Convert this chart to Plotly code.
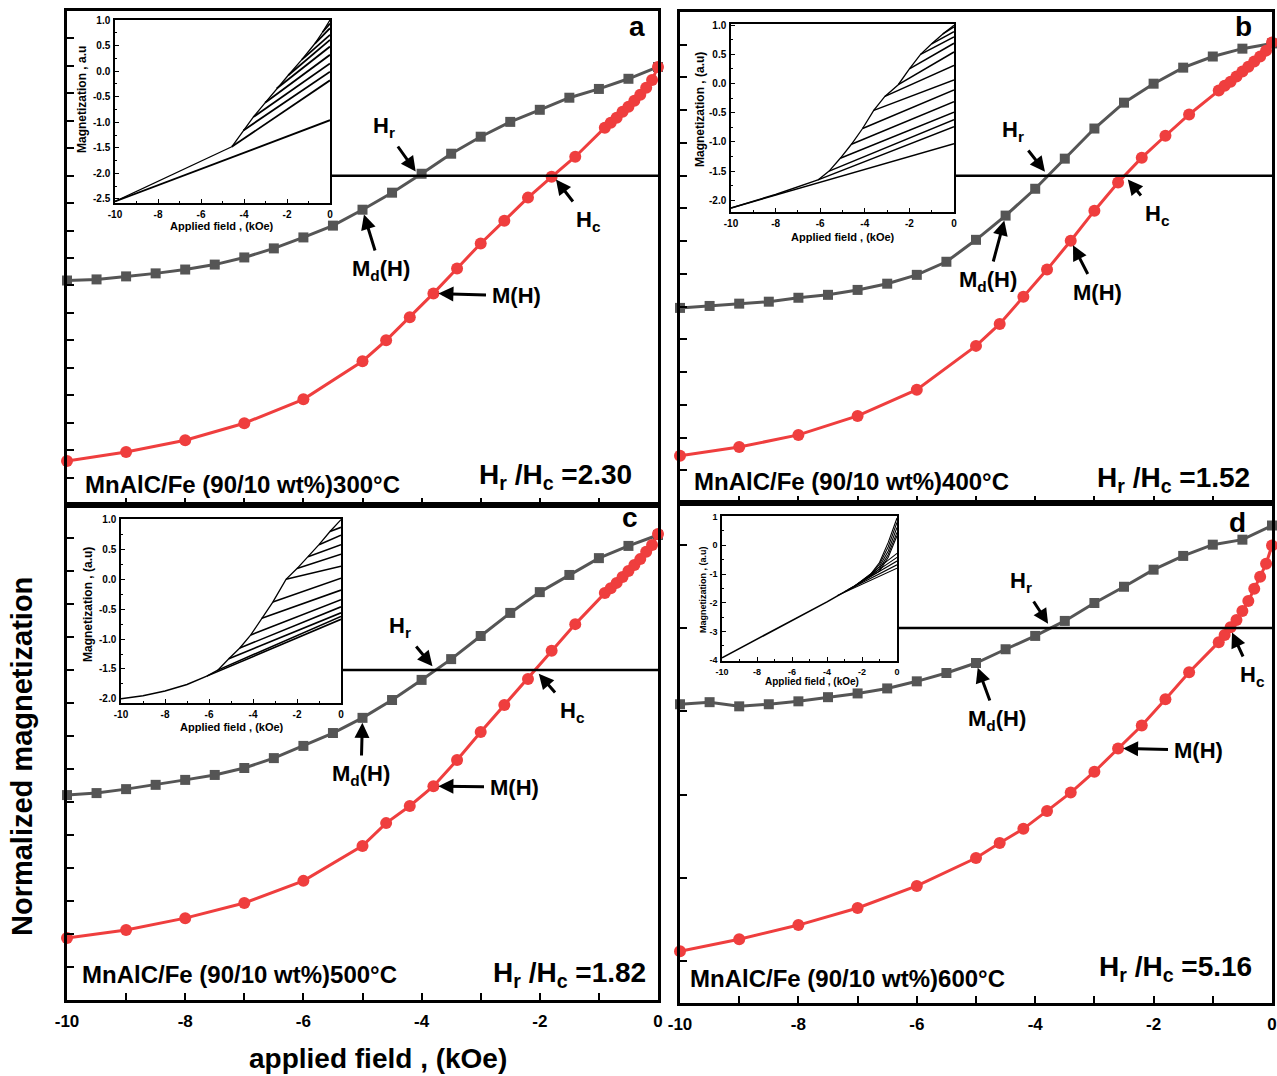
import numpy as np
import plotly.graph_objects as go

W, H = 1277, 1076
FONT = "Liberation Sans, Arial, sans-serif"

# ---------------- main panels: demagnetisation data ----------------
# field steps (kOe)
h_md = [-10, -9.5, -9, -8.5, -8, -7.5, -7, -6.5, -6, -5.5, -5, -4.5, -4,
        -3.5, -3, -2.5, -2, -1.5, -1, -0.5, 0]
h_m = [-10, -9, -8, -7, -6, -5, -4.6, -4.2, -3.8, -3.4, -3.0, -2.6, -2.2,
       -1.8, -1.4, -0.9, -0.8, -0.7, -0.6, -0.5, -0.4, -0.3, -0.2, -0.1, 0]

# Md(H) curves (grey squares)
md_300 = [-0.382, -0.378, -0.367, -0.356, -0.342, -0.324, -0.298, -0.265, -0.225,
          -0.182, -0.124, -0.062, 0.007, 0.080, 0.142, 0.196, 0.240, 0.284,
          0.316, 0.353, 0.396]
md_400 = [-0.404, -0.398, -0.391, -0.385, -0.373, -0.364, -0.349, -0.330, -0.303,
          -0.263, -0.196, -0.122, -0.040, 0.052, 0.144, 0.223, 0.281, 0.330,
          0.364, 0.388, 0.404]
md_500 = [-0.379, -0.373, -0.361, -0.348, -0.333, -0.318, -0.297, -0.267, -0.230,
          -0.191, -0.145, -0.091, -0.030, 0.033, 0.103, 0.173, 0.236, 0.288,
          0.339, 0.376, 0.409]
md_600 = [-0.183, -0.178, -0.188, -0.183, -0.176, -0.166, -0.157, -0.145, -0.128,
          -0.108, -0.084, -0.051, -0.019, 0.017, 0.060, 0.099, 0.140, 0.173,
          0.200, 0.212, 0.246]

# M(H) curves (red circles)
m_300 = [-1.040, -1.007, -0.964, -0.902, -0.815, -0.676, -0.600, -0.516, -0.429,
         -0.338, -0.247, -0.164, -0.080, -0.004, 0.069, 0.175, 0.193, 0.211,
         0.233, 0.251, 0.273, 0.295, 0.320, 0.349, 0.396]
m_400 = [-0.856, -0.829, -0.792, -0.734, -0.654, -0.520, -0.453, -0.370, -0.287,
         -0.199, -0.107, -0.021, 0.055, 0.122, 0.187, 0.260, 0.275, 0.287,
         0.303, 0.318, 0.333, 0.349, 0.364, 0.382, 0.407]
m_500 = [-0.812, -0.788, -0.752, -0.706, -0.639, -0.533, -0.464, -0.412, -0.352,
         -0.273, -0.188, -0.106, -0.027, 0.058, 0.139, 0.233, 0.248, 0.264,
         0.282, 0.300, 0.318, 0.336, 0.358, 0.379, 0.412]
m_600 = [-0.776, -0.747, -0.713, -0.672, -0.619, -0.552, -0.516, -0.482, -0.439,
         -0.395, -0.345, -0.289, -0.234, -0.171, -0.106, -0.034, -0.017, 0.002,
         0.019, 0.041, 0.065, 0.094, 0.123, 0.154, 0.198]

temps = ["300", "400", "500", "600"]
ratios = ["2.30", "1.52", "1.82", "5.16"]
letters = ["a", "b", "c", "d"]
x_ticks = [-10, -8, -6, -4, -2, 0]
x_ticktext = ["-10", "-8", "-6", "-4", "-2", "0"]

# ---------------- insets: reversal curves ----------------
# inset a
ia_low_h, ia_low_m = [-10, 0], [-2.55, -0.96]
ia_env_h, ia_env_m = [-10, -4.57], [-2.55, -1.48]
ia_front_h = [-4.57, -4.03, -3.57, -3.02, -2.48, -1.94, -1.32, -0.70, -0.35, 0]
ia_front_m = [-1.48, -1.16, -0.90, -0.62, -0.34, -0.08, 0.22, 0.54, 0.76, 1.0]
ia_end_m = [-0.18, -0.01, 0.15, 0.32, 0.48, 0.61, 0.71, 0.84, 0.93]

# inset b
ib_low_h, ib_low_m = [-10, 0], [-2.13, -1.03]
ib_env_h, ib_env_m = [-10, -8.0, -6.1], [-2.13, -1.90, -1.65]
ib_front_h = [-6.1, -5.6, -5.1, -4.6, -4.1, -3.6, -3.1, -2.5, -2.0, -1.5, -1.0, -0.5, 0]
ib_front_m = [-1.65, -1.50, -1.28, -1.04, -0.77, -0.46, -0.22, -0.02, 0.25, 0.50,
              0.68, 0.85, 1.0]
ib_end_m = [-0.74, -0.62, -0.49, -0.31, -0.11, 0.06, 0.31, 0.54, 0.69, 0.80, 0.89, 0.97]

# inset c
ic_low_h = [-10, -9, -8, -7, -6.1]
ic_low_m = [-2.00, -1.95, -1.87, -1.76, -1.62]
ic_front_h = [-6.1, -5.6, -5.1, -4.6, -4.1, -3.6, -3.1, -2.5, -2.0, -1.5, -1.0, -0.5, 0]
ic_front_m = [-1.62, -1.52, -1.33, -1.15, -0.93, -0.65, -0.38, 0.0, 0.18, 0.38,
              0.58, 0.80, 1.0]
ic_end_m = [-0.67, -0.62, -0.56, -0.46, -0.34, -0.18, 0.02, 0.22, 0.42, 0.58, 0.74, 0.87]

# inset d
id_env_h, id_env_m = [-10, -4.0, -2.5], [-3.92, -1.97, -1.45]
id_low_start_h = [-3.4, -3.0, -2.8, -2.6, -2.4]
id_low_start_m = [-1.75, -1.62, -1.55, -1.50, -1.42]
id_low_end_m = [-0.80, -0.68, -0.55, -0.42, -0.28]
id_up_h = [[-2.5, -1.5, -1.0, -0.5, 0],
           [-2.4, -1.5, -1.0, -0.5, 0],
           [-2.3, -1.5, -1.0, -0.5, 0],
           [-2.2, -1.5, -1.0, -0.5, 0],
           [-2.1, -1.5, -1.0, -0.5, 0]]
id_up_m = [[-1.45, -1.00, -0.60, 0.10, 0.95],
           [-1.42, -1.02, -0.66, -0.05, 0.80],
           [-1.38, -1.04, -0.74, -0.20, 0.62],
           [-1.34, -1.06, -0.82, -0.32, 0.45],
           [-1.30, -1.08, -0.90, -0.42, 0.33]]

inset_yticks = [[-2.5, -2.0, -1.5, -1.0, -0.5, 0.0, 0.5, 1.0],
                [-2.0, -1.5, -1.0, -0.5, 0.0, 0.5, 1.0],
                [-2.0, -1.5, -1.0, -0.5, 0.0, 0.5, 1.0],
                [-4, -3, -2, -1, 0, 1]]
inset_yticktext = [["-2.5", "-2.0", "-1.5", "-1.0", "-0.5", "0.0", "0.5", "1.0"],
                   ["-2.0", "-1.5", "-1.0", "-0.5", "0.0", "0.5", "1.0"],
                   ["-2.0", "-1.5", "-1.0", "-0.5", "0.0", "0.5", "1.0"],
                   ["-4", "-3", "-2", "-1", "0", "1"]]

GREY = "#555555"
RED = "#EF3E3E"


def px(x):
    return x / W


def py(y):
    return 1 - y / H


fig = go.Figure()

# panel geometry (pixels): left, right, top, bottom
panels = [(67, 658, 11, 505), (680, 1272, 12, 503), (67, 658, 505, 1000), (680, 1272, 503, 1003)]
yranges = [[-1.2, 0.6], [-1.0, 0.5], [-1.0, 0.5], [-0.9, 0.3]]
ydticks = [0.1, 0.1, 0.1, 0.2]
insets = [(115, 330, 20, 203), (731, 954, 24, 212), (121, 341, 519, 703), (722, 897, 516, 661)]
inset_yr = [[-2.58, 1.0], [-2.2, 1.02], [-2.07, 1.01], [-4.03, 1.02]]
inset_minor = [0.25, 0.25, 0.25, 0.5]
inset_ytitle = ["Magnetization , a.u", "Magnetization , (a.u)", "Magnetization , (a.u)",
                "Magnetization , (a.u)"]

md_all = [md_300, md_400, md_500, md_600]
m_all = [m_300, m_400, m_500, m_600]


def to_data(i, x_px, y_px):
    """pixel position -> data coordinates of main panel i"""
    l, r, t, b = panels[i]
    y0, y1 = yranges[i]
    return (-10 + 10 * (x_px - l) / (r - l), y1 - (y1 - y0) * (y_px - t) / (b - t))


for i in range(4):
    xa = "x" if i == 0 else f"x{i + 1}"
    ya = "y" if i == 0 else f"y{i + 1}"
    fig.add_trace(go.Scatter(x=h_md, y=md_all[i], mode="lines+markers", xaxis=xa, yaxis=ya,
                             line=dict(color=GREY, width=3),
                             marker=dict(symbol="square", size=10, color=GREY),
                             cliponaxis=False, showlegend=False))
    fig.add_trace(go.Scatter(x=h_m, y=m_all[i], mode="lines+markers", xaxis=xa, yaxis=ya,
                             line=dict(color=RED, width=3),
                             marker=dict(symbol="circle", size=12, color=RED),
                             cliponaxis=False, showlegend=False))


def inset_line(xs, ys, k, w=1.3):
    fig.add_trace(go.Scatter(x=xs, y=ys, mode="lines", xaxis=f"x{k}", yaxis=f"y{k}",
                             line=dict(color="black", width=w), showlegend=False,
                             hoverinfo="skip"))


# inset a
inset_line(ia_low_h, ia_low_m, 5, 1.8)
inset_line(ia_env_h, ia_env_m, 5, 1.3)
inset_line(ia_front_h, ia_front_m, 5, 1.3)
for h0, m0, m1 in zip(ia_front_h[:-1], ia_front_m[:-1], ia_end_m):
    inset_line([h0, 0], [m0, m1], 5, 1.8)
# inset b
inset_line(ib_low_h, ib_low_m, 6, 1.5)
inset_line(ib_env_h, ib_env_m, 6, 1.5)
inset_line(ib_front_h, ib_front_m, 6, 1.3)
for h0, m0, m1 in zip(ib_front_h[:-1], ib_front_m[:-1], ib_end_m):
    inset_line([h0, 0], [m0, m1], 6, 1.5)
# inset c
inset_line(ic_low_h, ic_low_m, 7, 1.5)
inset_line(ic_front_h, ic_front_m, 7, 1.3)
for h0, m0, m1 in zip(ic_front_h[:-1], ic_front_m[:-1], ic_end_m):
    inset_line([h0, 0], [m0, m1], 7, 1.6)
# inset d
inset_line(id_env_h, id_env_m, 8, 1.6)
for h0, m0, m1 in zip(id_low_start_h, id_low_start_m, id_low_end_m):
    inset_line([h0, 0], [m0, m1], 8, 1.1)
for hs, ms in zip(id_up_h, id_up_m):
    inset_line(hs, ms, 8, 1.1)

layout = dict(width=W, height=H, margin=dict(l=0, r=0, t=0, b=0, pad=0, autoexpand=False),
              paper_bgcolor="white", plot_bgcolor="white", showlegend=False,
              font=dict(family=FONT, color="black"))

for i, (l, r, t, b) in enumerate(panels):
    sx = "xaxis" if i == 0 else f"xaxis{i + 1}"
    sy = "yaxis" if i == 0 else f"yaxis{i + 1}"
    anchor_x = "x" if i == 0 else f"x{i + 1}"
    anchor_y = "y" if i == 0 else f"y{i + 1}"
    layout[sx] = dict(domain=[px(l), px(r)], range=[-10, 0], anchor=anchor_y, automargin=False,
                      showline=True, linewidth=2.5, linecolor="black", mirror=True,
                      ticks="inside", ticklen=7, tickwidth=2, tickcolor="black",
                      tickvals=x_ticks, ticktext=x_ticktext, showticklabels=(i >= 2),
                      tickfont=dict(size=17, family=FONT, weight="bold"),
                      ticklabelstandoff=4,
                      minor=dict(dtick=1, ticks="inside", ticklen=7, tickwidth=2,
                                 tickcolor="black"),
                      showgrid=False, zeroline=False, fixedrange=True)
    layout[sy] = dict(domain=[py(b), py(t)], range=yranges[i], anchor=anchor_x, automargin=False,
                      showline=True, linewidth=2.5, linecolor="black", mirror=True,
                      ticks="inside", ticklen=7, tickwidth=2, tickcolor="black",
                      dtick=ydticks[i], tick0=0, showticklabels=False,
                      showgrid=False, zeroline=False, fixedrange=True)

for j, (l, r, t, b) in enumerate(insets):
    k = j + 5
    fs = 10 if j < 3 else 9
    layout[f"xaxis{k}"] = dict(domain=[px(l), px(r)], range=[-10, 0], anchor=f"y{k}",
                               automargin=False,
                               showline=True, linewidth=1.5, linecolor="black", mirror=True,
                               ticks="inside", ticklen=4, tickwidth=1.2, tickcolor="black",
                               tickvals=x_ticks, ticktext=x_ticktext,
                               tickfont=dict(size=fs, family=FONT, weight="bold"),
                               ticklabelstandoff=1,
                               minor=dict(dtick=1, ticks="inside", ticklen=2, tickcolor="black"),
                               showgrid=False, zeroline=False, fixedrange=True)
    layout[f"yaxis{k}"] = dict(domain=[py(b), py(t)], range=inset_yr[j], anchor=f"x{k}",
                               automargin=False,
                               showline=True, linewidth=1.5, linecolor="black", mirror=True,
                               ticks="inside", ticklen=4, tickwidth=1.2, tickcolor="black",
                               tickvals=inset_yticks[j], ticktext=inset_yticktext[j],
                               tickfont=dict(size=fs, family=FONT, weight="bold"),
                               ticklabelstandoff=1,
                               minor=dict(dtick=inset_minor[j], tick0=0, ticks="inside",
                                          ticklen=2, tickcolor="black"),
                               showgrid=False, zeroline=False, fixedrange=True)

fig.update_layout(**layout)

# zero lines from inset edge to panel edge
for i in range(4):
    yref = "y" if i == 0 else f"y{i + 1}"
    fig.add_shape(type="line", xref="paper", yref=yref,
                  x0=px(insets[i][1]), x1=px(panels[i][1]), y0=0, y1=0,
                  line=dict(color="black", width=2.5))

annos = []


def text(x, y, s, size, xanchor="center", angle=0):
    annos.append(dict(x=px(x), y=py(y), xref="paper", yref="paper", text=s,
                      showarrow=False, xanchor=xanchor, yanchor="middle", textangle=angle,
                      font=dict(size=size, family=FONT, color="black", weight="bold")))


# sample labels and ratios
sample_pos = [(83, 484), (692, 481), (80, 974), (688, 978)]
ratio_pos = [(634, 476), (1252, 479), (648, 974), (1254, 968)]
letter_pos = [(637, 27), (1243, 27), (630, 517), (1237, 522)]
for i in range(4):
    text(*sample_pos[i], f"MnAlC/Fe (90/10 wt%){temps[i]}°C", 24, "left")
    text(*ratio_pos[i], f"H<sub>r</sub> /H<sub>c</sub> ={ratios[i]}", 28, "right")
    text(*letter_pos[i], letters[i], 28)

# labelled arrows: Hr / Hc point at the zero crossings, Md / M at a data point
label_pos = [
    [(384, 127), (588, 221), (381, 270), (516, 296)],
    [(1013, 131), (1157, 215), (988, 281), (1097, 292)],
    [(400, 627), (572, 712), (361, 775), (514, 787)],
    [(1021, 582), (1252, 676), (997, 720), (1198, 750)],
]
label_txt = ["H<sub>r</sub>", "H<sub>c</sub>", "M<sub>d</sub>(H)", "M(H)"]
md_idx = [h_md.index(-5), h_md.index(-4.5), h_md.index(-5), h_md.index(-5)]
m_idx = [h_m.index(-3.8), h_m.index(-3.4), h_m.index(-3.8), h_m.index(-2.6)]
for i in range(4):
    xr = "x" if i == 0 else f"x{i + 1}"
    yr = "y" if i == 0 else f"y{i + 1}"
    hr = float(np.interp(0, md_all[i], h_md))
    hc = float(np.interp(0, m_all[i], h_m))
    targets = [(hr, 0), (hc, 0), (h_md[md_idx[i]], md_all[i][md_idx[i]]),
               (h_m[m_idx[i]], m_all[i][m_idx[i]])]
    for (tx, ty), (lx, ly), s in zip(targets, label_pos[i], label_txt):
        ax, ay = to_data(i, lx, ly)
        annos.append(dict(x=tx, y=ty, xref=xr, yref=yr, text=s, showarrow=True,
                          axref=xr, ayref=yr, ax=ax, ay=ay,
                          arrowhead=2, arrowsize=1, arrowwidth=3, arrowcolor="black",
                          standoff=5, borderpad=5,
                          font=dict(size=22, family=FONT, color="black", weight="bold")))

# inset axis titles
ins_xt = [(222, 226), (843, 237), (232, 727), (812, 681)]
ins_yt = [(82, 100), (700, 110), (88, 605), (703, 590)]
for j in range(4):
    text(*ins_xt[j], "Applied field , (kOe)", 11 if j < 3 else 10)
    text(*ins_yt[j], inset_ytitle[j], 12 if j < 3 else 9, angle=-90)

# global axis titles
text(378, 1058, "applied field , (kOe)", 28)
text(22, 757, "Normalized magnetization", 29, angle=-90)

fig.update_layout(annotations=annos)
fig.write_html("out.html")
